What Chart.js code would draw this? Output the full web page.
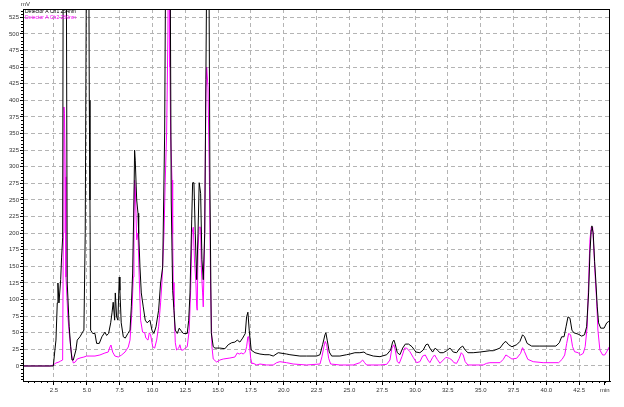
<!DOCTYPE html>
<html>
<head>
<meta charset="utf-8">
<script src="https://cdn.jsdelivr.net/npm/chart.js@4.4.1/dist/chart.umd.min.js"></script>
<style>
html, body { margin: 0; padding: 0; background: #fff; }
canvas { display: block; }
</style>
</head>
<body>
<canvas id="chromChart" width="624" height="407"></canvas>
<script>
// retention time (min) and signal (mV), channel 1 (black)
const timeCh1 = [0.14, 2.45, 2.50, 2.57, 2.65, 2.75, 2.80, 2.88, 3.01, 3.08,
    3.16, 3.21, 3.30, 3.41, 3.45, 3.51, 3.66, 3.77, 3.87, 3.97,
    4.17, 4.27, 4.48, 4.68, 4.78, 4.88, 4.99, 5.10, 5.19, 5.24,
    5.29, 5.45, 5.62, 5.75, 5.95, 6.15, 6.38, 6.51, 6.66, 6.82,
    6.92, 7.01, 7.12, 7.17, 7.27, 7.37, 7.47, 7.52, 7.62, 7.78,
    7.93, 8.13, 8.29, 8.39, 8.49, 8.59, 8.64, 8.69, 8.80, 8.90,
    8.95, 9.05, 9.15, 9.30, 9.45, 9.60, 9.81, 9.96, 10.11, 10.27,
    10.47, 10.62, 10.78, 10.93, 11.03, 11.20, 11.33, 11.43, 11.54, 11.64,
    11.74, 11.89, 12.04, 12.15, 12.35, 12.65, 12.76, 12.86, 12.99, 13.06,
    13.16, 13.26, 13.37, 13.47, 13.56, 13.67, 13.77, 13.87, 13.98, 14.07,
    14.17, 14.23, 14.28, 14.38, 14.48, 14.63, 14.76, 15.14, 15.52, 15.77,
    16.03, 16.28, 16.46, 16.66, 16.87, 17.07, 17.17, 17.27, 17.37, 17.52,
    17.81, 18.19, 18.57, 18.90, 19.20, 19.58, 20.22, 20.47, 21.23, 21.74,
    22.51, 22.76, 22.96, 23.14, 23.21, 23.31, 23.47, 23.65, 24.28, 24.79,
    25.04, 25.42, 25.80, 26.11, 26.31, 26.82, 27.33, 27.84, 28.14, 28.29,
    28.39, 28.49, 28.65, 28.85, 29.06, 29.26, 29.51, 29.77, 30.07, 30.37,
    30.62, 30.83, 30.98, 31.13, 31.34, 31.54, 31.69, 31.90, 32.15, 32.41,
    32.66, 32.91, 33.17, 33.42, 33.63, 33.82, 34.03, 34.43, 34.94, 35.70,
    35.96, 36.47, 36.77, 36.92, 37.13, 37.38, 37.74, 37.99, 38.19, 38.34,
    38.54, 38.88, 39.51, 40.02, 40.73, 40.99, 41.17, 41.35, 41.50, 41.65,
    41.80, 41.95, 42.10, 42.42, 42.69, 42.91, 43.07, 43.22, 43.32, 43.42,
    43.47, 43.57, 43.68, 43.78, 43.88, 43.98, 44.14, 44.40, 44.60, 44.75,
    44.85];
const signalCh1 = [0, 0, 0, 24, 39, 95, 125, 95, 130, 164,
    193, 700, 800, 700, 540, 125, 59, 29, 9, 9,
    24, 39, 44, 51, 54, 200, 700, 900, 400, 250,
    54, 49, 49, 34, 34, 44, 51, 46, 49, 65,
    80, 96, 69, 110, 74, 69, 134, 114, 65, 44,
    42, 49, 54, 89, 140, 250, 325, 310, 250, 230,
    200, 149, 110, 89, 69, 65, 69, 54, 49, 59,
    84, 125, 149, 351, 700, 900, 700, 250, 114, 84,
    54, 49, 57, 54, 49, 49, 69, 110, 220, 276,
    276, 200, 130, 200, 276, 260, 160, 130, 200, 431,
    700, 800, 700, 270, 50, 29, 27, 27, 26, 32,
    35, 36, 39, 36, 42, 49, 74, 81, 54, 24,
    20, 18, 17, 17, 15, 20, 18, 17, 15, 15,
    15, 17, 32, 47, 50, 39, 21, 15, 15, 17,
    18, 20, 20, 21, 18, 15, 14, 17, 24, 36,
    39, 33, 20, 17, 27, 33, 33, 29, 21, 20,
    24, 32, 33, 27, 21, 27, 24, 20, 20, 23,
    27, 21, 20, 27, 30, 24, 20, 20, 21, 23,
    23, 27, 35, 37, 32, 29, 32, 37, 47, 44,
    34, 30, 30, 30, 30, 35, 44, 44, 59, 74,
    72, 54, 50, 48, 45, 47, 59, 110, 170, 205,
    211, 200, 157, 125, 89, 65, 57, 57, 65, 67,
    67];

// channel 2 (magenta)
const timeCh2 = [0.14, 2.19, 2.44, 2.65, 2.88, 3.01, 3.16, 3.21, 3.26, 3.30,
    3.36, 3.41, 3.56, 3.66, 3.82, 3.92, 3.97, 4.12, 4.27, 4.48,
    4.78, 4.99, 5.24, 5.62, 6.00, 6.38, 6.63, 6.76, 6.84, 6.97,
    7.14, 7.40, 7.65, 7.91, 8.16, 8.29, 8.44, 8.54, 8.59, 8.64,
    8.69, 8.80, 8.90, 8.99, 9.10, 9.25, 9.41, 9.50, 9.66, 9.76,
    9.86, 10.02, 10.17, 10.32, 10.47, 10.62, 10.72, 10.88, 10.97, 11.08,
    11.18, 11.23, 11.28, 11.33, 11.39, 11.49, 11.54, 11.58, 11.64, 11.74,
    11.84, 12.00, 12.09, 12.19, 12.35, 12.50, 12.65, 12.80, 12.91, 13.01,
    13.11, 13.21, 13.31, 13.37, 13.41, 13.47, 13.56, 13.67, 13.72, 13.82,
    13.87, 13.98, 14.07, 14.13, 14.23, 14.33, 14.43, 14.53, 14.63, 14.89,
    15.14, 15.39, 15.90, 16.28, 16.46, 16.61, 16.76, 16.92, 17.07, 17.17,
    17.27, 17.33, 17.37, 17.48, 17.58, 17.63, 17.94, 18.19, 18.70, 19.20,
    19.46, 19.71, 20.22, 20.72, 21.74, 22.76, 22.91, 23.06, 23.16, 23.27,
    23.42, 23.57, 24.28, 25.29, 25.80, 26.01, 26.16, 26.31, 27.33, 27.84,
    28.09, 28.24, 28.39, 28.49, 28.65, 28.80, 29.00, 29.21, 29.36, 29.61,
    29.86, 30.12, 30.37, 30.58, 30.78, 30.98, 31.13, 31.34, 31.49, 31.69,
    31.90, 32.15, 32.35, 32.61, 32.81, 32.96, 33.17, 33.37, 33.52, 33.67,
    33.82, 34.03, 35.19, 35.45, 35.70, 36.47, 36.72, 36.92, 37.13, 37.38,
    37.74, 38.04, 38.19, 38.34, 38.59, 39.00, 39.76, 40.94, 41.20, 41.40,
    41.55, 41.70, 41.85, 42.00, 42.15, 42.42, 42.61, 42.81, 42.96, 43.11,
    43.22, 43.32, 43.42, 43.53, 43.62, 43.72, 43.83, 43.93, 44.08, 44.29,
    44.45, 44.60, 44.80];
const signalCh2 = [0, 0, 1.5, 4.5, 6, 7.5, 9, 200, 390, 380,
    285, 134, 74, 50, 20, 9, 4.5, 6, 10.5, 12,
    13.5, 15, 15, 15, 16.6, 19.6, 21, 28.6, 31.6, 21,
    15, 13.5, 16.6, 21, 28.6, 39, 84, 134, 230, 280,
    270, 190, 200, 134, 69, 51, 50, 42, 39, 50,
    47, 29, 27, 39, 59, 95, 125, 200, 276, 351,
    501, 700, 700, 450, 345, 280, 200, 125, 89, 35,
    24, 27, 32, 24, 24, 27, 29, 54, 114, 200,
    209, 155, 125, 89, 84, 175, 209, 209, 149, 110,
    89, 200, 411, 450, 420, 291, 119, 29, 10.5, 6,
    9, 10.5, 12, 13.5, 19.6, 18, 19.6, 18, 21, 29,
    44, 44, 35, 12, 3, 4.5, 1.5, 3, 1.5, 1.5,
    5, 6.5, 5, 3, 1.5, 3, 14, 29, 37, 32,
    11.6, 3, 1.5, 1.5, 5, 9, 5, 1.5, 1.5, 2.5,
    9, 27, 32, 24, 6.5, 4, 14, 27, 27, 21.5,
    13, 5, 6.5, 15, 16.6, 9, 5, 13, 16.6, 10,
    4, 9, 13, 11.6, 9, 5, 4, 11.6, 20, 16.6,
    6.5, 1.5, 1.5, 4, 5, 5, 10, 16.6, 14, 10.5,
    11.6, 19, 27.6, 21.5, 10, 6.5, 5, 5, 10, 16.6,
    34, 49, 47, 29, 21.5, 20, 16.6, 19, 29, 59,
    125, 190, 209, 209, 175, 135, 99, 54, 24, 16.6,
    16.6, 21.5, 29];

const seriesNames = ["Detector A Ch1 254nm", "Detector A Ch2 280nm"];
const seriesColors = ["#000000", "#ff00ff"];
const xTickValues = [2.5, 5, 7.5, 10, 12.5, 15, 17.5, 20, 22.5, 25, 27.5, 30, 32.5, 35, 37.5, 40, 42.5];
const yTickValues = [0, 25, 50, 75, 100, 125, 150, 175, 200, 225, 250, 275, 300, 325, 350, 375, 400, 425, 450, 475, 500, 525];
const xUnit = "min";
const yUnit = "mV";
const xRange = [0.14, 44.85];
const yRange = [-22.6, 537.6];

function toPoints(t, v) {
    return t.map((x, i) => ({ x: x, y: v[i] }));
}

const unitPos = 44.45; // where the "min" label sits
const tickFont = { family: "Liberation Sans", size: 6 };

// frame, minor ticks, legend text, unit labels
const decorations = {
    id: 'decorations',
    afterDraw(chart) {
        const ctx = chart.ctx;
        const a = chart.chartArea;
        const xs = chart.scales.x, ys = chart.scales.y;
        ctx.save();
        ctx.strokeStyle = '#000';
        ctx.lineWidth = 1;
        ctx.strokeRect(Math.round(a.left) + 0.5, Math.round(a.top) + 0.5,
            Math.round(a.right - a.left) - 1, Math.round(a.bottom - a.top));

        ctx.beginPath();
        for (let v = -20; v < yRange[1]; v += 5) {
            if (v % 25 === 0) continue;
            const py = Math.round(ys.getPixelForValue(v)) + 0.5;
            ctx.moveTo(a.left - 2, py);
            ctx.lineTo(a.left, py);
        }
        for (let t = 0.5; t < xRange[1]; t += 0.5) {
            if (Math.abs(t / 2.5 - Math.round(t / 2.5)) < 1e-6) continue;
            const px = Math.round(xs.getPixelForValue(t)) + 0.5;
            ctx.moveTo(px, a.bottom);
            ctx.lineTo(px, a.bottom + 2);
        }
        ctx.stroke();

        ctx.font = '5px "Liberation Sans"';
        ctx.textBaseline = 'middle';
        ctx.textAlign = 'left';
        chart.data.datasets.forEach((ds, i) => {
            ctx.fillStyle = ds.borderColor;
            ctx.fillText(ds.label, a.left + 2, a.top + 3 + i * 6);
        });
        ctx.font = '6px "Liberation Sans"';
        ctx.fillStyle = '#333';
        ctx.fillText(yUnit, a.left - 2, a.top - 5);
        ctx.restore();
    }
};

const ctx = document.getElementById('chromChart').getContext('2d');
const chromChart = new Chart(ctx, {
    type: 'line',
    data: {
        datasets: [
            {
                label: seriesNames[0],
                data: toPoints(timeCh1, signalCh1),
                borderColor: seriesColors[0],
                borderWidth: 1,
                pointRadius: 0,
                tension: 0
            },
            {
                label: seriesNames[1],
                data: toPoints(timeCh2, signalCh2),
                borderColor: seriesColors[1],
                borderWidth: 1,
                pointRadius: 0,
                tension: 0
            }
        ]
    },
    options: {
        responsive: false,
        animation: false,
        devicePixelRatio: 1,
        layout: { padding: { top: 9, right: 14, left: 0, bottom: 0 } },
        scales: {
            x: {
                type: 'linear',
                min: xRange[0],
                max: xRange[1],
                afterBuildTicks: s => { s.ticks = xTickValues.concat([unitPos]).map(v => ({ value: v })); },
                afterFit: s => { s.height = 26; },
                ticks: {
                    font: tickFont,
                    color: '#333',
                    padding: 2,
                    maxRotation: 0,
                    autoSkip: false,
                    callback: v => (v > 44 ? xUnit : v.toFixed(1))
                },
                grid: {
                    color: c => (c.tick && c.tick.value > 44 ? 'rgba(0,0,0,0)' : '#b4b4b4'),
                    tickColor: '#000',
                    tickLength: 4,
                    tickBorderDash: []
                },
                border: { display: true, color: '#000', dash: [4, 3] }
            },
            y: {
                min: yRange[0],
                max: yRange[1],
                afterBuildTicks: s => { s.ticks = yTickValues.map(v => ({ value: v })); },
                afterFit: s => { s.width = 23; },
                ticks: {
                    font: tickFont,
                    color: '#333',
                    padding: 1,
                    autoSkip: false
                },
                grid: {
                    color: '#b4b4b4',
                    tickColor: '#000',
                    tickLength: 3,
                    tickBorderDash: []
                },
                border: { display: true, color: '#000', dash: [4, 3] }
            }
        },
        plugins: {
            legend: { display: false },
            tooltip: { enabled: false }
        }
    },
    plugins: [decorations]
});
</script>
</body>
</html>
